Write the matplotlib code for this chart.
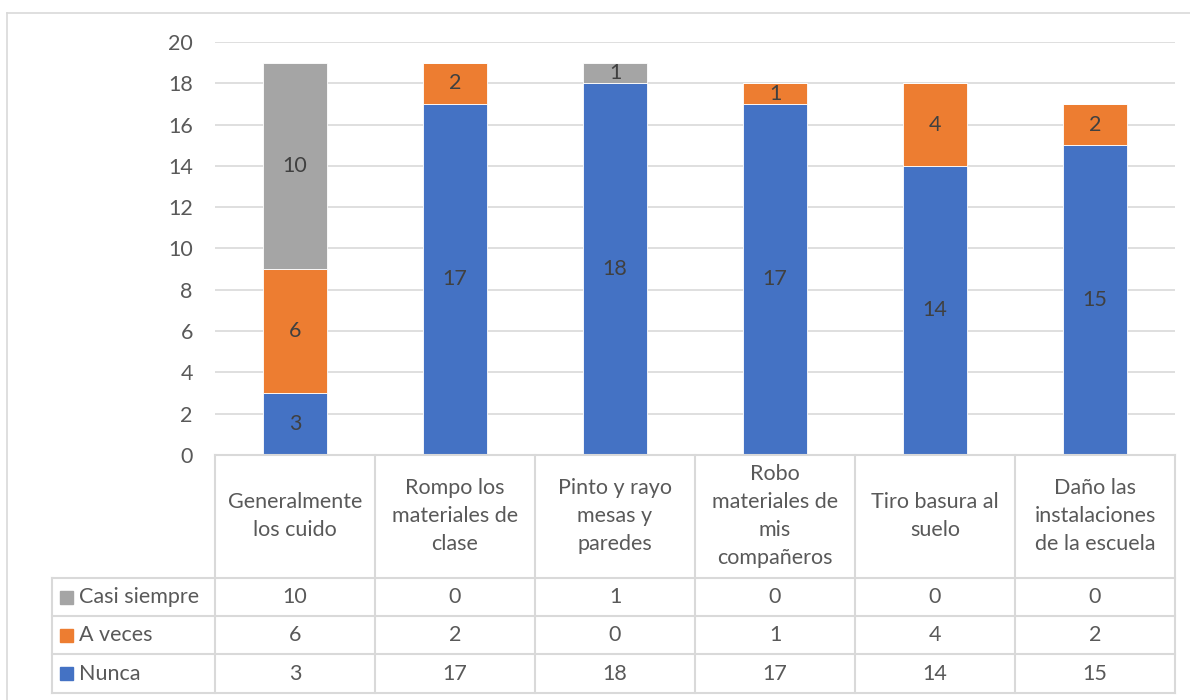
import matplotlib.pyplot as plt
from matplotlib.lines import Line2D
import numpy as np

plt.rcParams['font.family'] = ['Lato', 'DejaVu Sans']

categories = ["Generalmente\nlos cuido", "Rompo los\nmateriales de\nclase",
              "Pinto y rayo\nmesas y\nparedes", "Robo\nmateriales de\nmis\ncompañeros",
              "Tiro basura al\nsuelo", "Daño las\ninstalaciones\nde la escuela"]
series = ["Nunca", "A veces", "Casi siempre"]
nunca = [3, 17, 18, 17, 14, 15]
a_veces = [6, 2, 0, 1, 4, 2]
casi_siempre = [10, 0, 1, 0, 0, 0]
colors = ["#4472C4", "#ED7D31", "#A5A5A5"]
yticks = [0, 2, 4, 6, 8, 10, 12, 14, 16, 18, 20]

FS = 15.5
W, H = 1190, 700
fig = plt.figure(figsize=(W / 100, H / 100), dpi=100)

def box(x0, y0, x1, y1):
    # pixel box (top-left origin) -> figure fraction rect
    return [x0 / W, 1 - y1 / H, (x1 - x0) / W, (y1 - y0) / H]

# outer chart border (top and left only visible)
fig.add_artist(Line2D([7 / W, 7 / W], [0, 1 - 13 / H], transform=fig.transFigure,
                      color="#d9d9d9", lw=1.2))
fig.add_artist(Line2D([7 / W, 1], [1 - 13 / H, 1 - 13 / H], transform=fig.transFigure,
                      color="#d9d9d9", lw=1.2))

px_l, px_r, px_t, px_b = 215, 1175, 42, 455
ax = fig.add_axes(box(px_l, px_t, px_r, px_b))
x = np.arange(len(categories))
data = [nunca, a_veces, casi_siempre]
bottom = np.zeros(len(categories))
for vals, col in zip(data, colors):
    vals = np.array(vals)
    ax.bar(x, vals, 0.4, bottom=bottom, color=col, edgecolor="white", linewidth=0.6, zorder=3)
    for xi, b, v in zip(x, bottom, vals):
        if v > 0:
            ax.text(xi, b + v / 2, str(v), ha="center", va="center",
                    fontsize=FS, color="#404040", zorder=4)
    bottom += vals

ax.set_xlim(-0.5, len(categories) - 0.5)
ax.set_ylim(0, 20)
ax.set_yticks(yticks)
ax.set_yticklabels([str(t) for t in yticks], fontsize=FS, color="#595959")
ax.tick_params(axis="y", length=0, pad=16)
ax.set_xticks([])
ax.grid(axis="y", color="#d9d9d9", lw=1.2, zorder=0)
for s in ax.spines.values():
    s.set_visible(False)

# data table below the plot
tx0 = 52
row_edges = [455, 578, 616, 654, 693]
col_w = (px_r - px_l) / len(categories)
col_edges = [px_l + i * col_w for i in range(len(categories) + 1)]
tax = fig.add_axes([0, 0, 1, 1])
tax.set_xlim(0, W)
tax.set_ylim(H, 0)
tax.axis("off")
lc = "#d9d9d9"
lw = 1.5
# header row (category labels)
tax.plot([px_l, px_r], [row_edges[0]] * 2, color=lc, lw=lw)
for r in row_edges[1:]:
    tax.plot([tx0, px_r], [r, r], color=lc, lw=lw)
tax.plot([tx0, tx0], [row_edges[1], row_edges[-1]], color=lc, lw=lw)
for c in col_edges:
    tax.plot([c, c], [row_edges[0], row_edges[-1]], color=lc, lw=lw)

for i, cat in enumerate(categories):
    cx = (col_edges[i] + col_edges[i + 1]) / 2
    tax.text(cx, (row_edges[0] + row_edges[1]) / 2, cat, ha="center", va="center",
             fontsize=FS, color="#595959", linespacing=1.5)

rows = [("Casi siempre", casi_siempre, colors[2]),
        ("A veces", a_veces, colors[1]),
        ("Nunca", nunca, colors[0])]
for k, (name, vals, col) in enumerate(rows):
    cy = (row_edges[k + 1] + row_edges[k + 2]) / 2
    tax.add_patch(plt.Rectangle((60, cy - 6.5), 13, 13, color=col))
    tax.text(79, cy, name, ha="left", va="center", fontsize=FS, color="#595959")
    for i, v in enumerate(vals):
        cx = (col_edges[i] + col_edges[i + 1]) / 2
        tax.text(cx, cy, str(v), ha="center", va="center", fontsize=FS, color="#595959")

fig.savefig("out.png", dpi=100)
